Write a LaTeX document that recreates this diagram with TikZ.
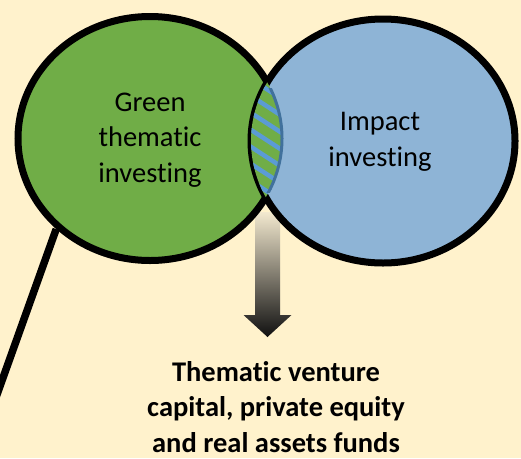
\documentclass[tikz,border=0pt]{standalone}
\usepackage{fontspec}
\setmainfont[Ligatures={NoCommon}]{Carlito}
\usetikzlibrary{shapes.geometric}
\definecolor{bgc}{HTML}{FFF2CC}
\definecolor{gfill}{HTML}{70AD47}
\definecolor{bfill}{HTML}{8EB4D6}
\definecolor{stripe}{HTML}{5B9BD5}
\definecolor{dblue}{HTML}{41719C}
\definecolor{arrtop}{HTML}{F3E9CF}
\definecolor{arrbot}{HTML}{101010}
\tikzset{
  venn/.style={ellipse, draw=black, line width=7pt, inner sep=0pt,
    minimum width=264pt, minimum height=244pt},
  lbl/.style={font=\fontsize{28.5}{35.5}\selectfont, align=center, text=black},
  blbl/.style={font=\bfseries\fontsize{28.5}{35.5}\selectfont, align=center, text=black, inner sep=0.5pt}
}
\begin{document}
\begin{tikzpicture}[x=1pt,y=-1pt]
\fill[bgc] (0,0) rectangle (521,458);
\useasboundingbox (0,0) rectangle (521,458);
\clip (0,0) rectangle (521,458);
% gradient arrow
\shade[top color=arrtop, bottom color=arrbot]
  (255,212) -- (280,212) -- (280,315) -- (291.5,315) -- (267.5,337)
  -- (243.5,315) -- (255,315) -- cycle;
% circles
\node[venn, fill=gfill] (green) at (150,138.5) {};
\node[venn, fill=bfill] (blue) at (383,141) {};
% lens
\begin{scope}
  \clip (150,138.5) ellipse [x radius=132, y radius=122];
  \clip (383,141) ellipse [x radius=132, y radius=122];
  \fill[gfill] (230,60) rectangle (300,220);
  \foreach \k in {-8,...,8}
    \draw[stripe, line width=4.5pt] (225,{139+\k*17-26}) -- ++(80,52);
\end{scope}
\begin{scope}
  \clip (383,141) ellipse [x radius=132, y radius=122];
  \clip (200,88) rectangle (320,192);
  \draw[dblue, line width=3pt] (150,138.5) ellipse [x radius=132, y radius=122];
\end{scope}
% connector line
\coordinate (lineend) at (-30,470);
\draw[black, line width=7.5pt] (green.224) -- (lineend);
% labels
\node[lbl] (gtext) at (150,140) {Green\\thematic\\investing};
\node[lbl] (btext) at (380,142) {Impact\\investing};
\node[blbl] (out) at (276,407) {Thematic venture\\capital, private equity\\and real assets funds};
\end{tikzpicture}
\end{document}
